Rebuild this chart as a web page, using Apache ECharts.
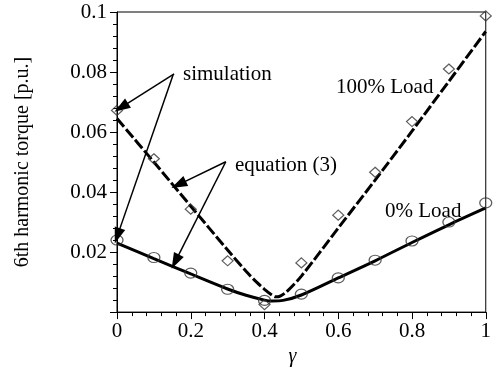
<!DOCTYPE html>
<html>
<head>
<meta charset="utf-8">
<script src="https://cdn.jsdelivr.net/npm/echarts@6/dist/echarts.min.js"></script>
<style>
  html, body { margin: 0; padding: 0; background: #fff; }
  #chart { width: 494px; height: 372px; }
</style>
</head>
<body>
<div id="chart"></div>
<script>
// Simulated points (gamma = 0 ... 1, step 0.1)
var simGamma = [0, 0.1, 0.2, 0.3, 0.4, 0.5, 0.6, 0.7, 0.8, 0.9, 1.0];
var simFullLoad = [0.0672, 0.0511, 0.0343, 0.0171, 0.0025, 0.0164, 0.0323, 0.0466, 0.0635, 0.0810, 0.0987];
var simNoLoad   = [0.0240, 0.0182, 0.0130, 0.0076, 0.0039, 0.0060, 0.0114, 0.0173, 0.0237, 0.0300, 0.0364];

// Equation (3) curves
var eqGammaFull = [0, 0.1, 0.2, 0.3, 0.35, 0.38, 0.4, 0.42, 0.43, 0.44, 0.46, 0.5, 0.6, 0.7, 0.8, 0.9, 1.0];
var eqFullLoad  = [0.0645, 0.0500, 0.0353, 0.0207, 0.0136, 0.0098, 0.0076, 0.0057, 0.0051, 0.0052, 0.0068, 0.0120, 0.0280, 0.0440, 0.0603, 0.0769, 0.0935];
var eqGammaNo   = [0, 0.1, 0.2, 0.3, 0.35, 0.4, 0.42, 0.45, 0.5, 0.6, 0.7, 0.8, 0.9, 1.0];
var eqNoLoad    = [0.0230, 0.0178, 0.0127, 0.0077, 0.0056, 0.0040, 0.0037, 0.0039, 0.0057, 0.0114, 0.0171, 0.0232, 0.0291, 0.0347];

// Annotation arrows: [fromGamma, fromTorque, toGamma, toTorque]
var arrowsSim = [[0.155, 0.0794, 0.0115, 0.0682], [0.152, 0.0790, 0.001, 0.0254]];
var arrowsEq  = [[0.295, 0.0501, 0.167, 0.0425], [0.295, 0.0501, 0.158, 0.0168]];

var yTicks = { min: 0, max: 0.1, interval: 0.02 };
var xTicks = { min: 0, max: 1, interval: 0.2 };

function pairs(xs, ys) { return xs.map(function (x, i) { return [x, ys[i]]; }); }
function arrowData(list) {
  return list.map(function (a) { return [{ coord: [a[0], a[1]] }, { coord: [a[2], a[3]] }]; });
}

var FONT = 'Liberation Serif';
var chart = echarts.init(document.getElementById('chart'));

chart.setOption({
  animation: false,
  backgroundColor: '#fff',
  grid: { left: 117, right: 2, top: 12, bottom: 49, show: true, borderColor: '#000', borderWidth: 1 },
  xAxis: {
    type: 'value', min: xTicks.min, max: xTicks.max, interval: xTicks.interval,
    name: 'γ', nameLocation: 'middle', nameGap: 28,
    nameTextStyle: { fontFamily: FONT, fontSize: 20, fontStyle: 'italic', color: '#000', padding: [0, 18, 0, 0] },
    axisLine: { lineStyle: { color: '#000', width: 1 } },
    axisTick: { length: 7, lineStyle: { color: '#000' } },
    minorTick: { show: true, splitNumber: 5, length: 4, lineStyle: { color: '#000' } },
    splitLine: { show: false },
    axisLabel: { fontFamily: FONT, fontSize: 21, color: '#000', margin: 9 }
  },
  yAxis: {
    type: 'value', min: yTicks.min, max: yTicks.max, interval: yTicks.interval,
    name: '6th harmonic torque [p.u.]', nameLocation: 'middle', nameGap: 84, nameRotate: 90,
    nameTextStyle: { fontFamily: FONT, fontSize: 20, color: '#000' },
    axisLine: { lineStyle: { color: '#000', width: 1 } },
    axisTick: { length: 7, lineStyle: { color: '#000' } },
    minorTick: { show: true, splitNumber: 5, length: 4, lineStyle: { color: '#000' } },
    splitLine: { show: false },
    axisLabel: { fontFamily: FONT, fontSize: 21, color: '#000', margin: 10, showMinLabel: false }
  },
  series: [
    {
      name: 'eq 100%', type: 'line', data: pairs(eqGammaFull, eqFullLoad), smooth: 0.3,
      showSymbol: false, lineStyle: { color: '#000', width: 3, type: [11, 3] }, z: 3
    },
    {
      name: 'eq 0%', type: 'line', data: pairs(eqGammaNo, eqNoLoad), smooth: 0.3,
      showSymbol: false, lineStyle: { color: '#000', width: 3 }, z: 3
    },
    {
      name: 'sim 100%', type: 'scatter', data: pairs(simGamma, simFullLoad),
      symbol: 'diamond', symbolSize: [11, 10],
      itemStyle: { color: 'rgba(255,255,255,0)', borderColor: '#333', borderWidth: 1.2 }, z: 4,
      markLine: {
        silent: true, symbol: ['none', 'triangle'], symbolSize: [11, 16],
        label: { show: false },
        lineStyle: { color: '#000', width: 1.5, type: 'solid' },
        data: arrowData(arrowsSim)
      }
    },
    {
      name: 'sim 0%', type: 'scatter', data: pairs(simGamma, simNoLoad),
      symbol: 'circle', symbolSize: [12, 10],
      itemStyle: { color: 'rgba(255,255,255,0)', borderColor: '#333', borderWidth: 1.2 }, z: 4,
      markLine: {
        silent: true, symbol: ['none', 'triangle'], symbolSize: [11, 16],
        label: { show: false },
        lineStyle: { color: '#000', width: 1.5, type: 'solid' },
        data: arrowData(arrowsEq)
      }
    }
  ],
  graphic: [
    { type: 'text', left: 183, top: 64, style: { text: 'simulation', font: '21px ' + FONT, fill: '#000' } },
    { type: 'text', left: 235, top: 155, style: { text: 'equation (3)', font: '21px ' + FONT, fill: '#000' } },
    { type: 'text', left: 336, top: 77, style: { text: '100% Load', font: '21px ' + FONT, fill: '#000' } },
    { type: 'text', left: 385, top: 201, style: { text: '0% Load', font: '21px ' + FONT, fill: '#000' } }
  ]
});
</script>
</body>
</html>
